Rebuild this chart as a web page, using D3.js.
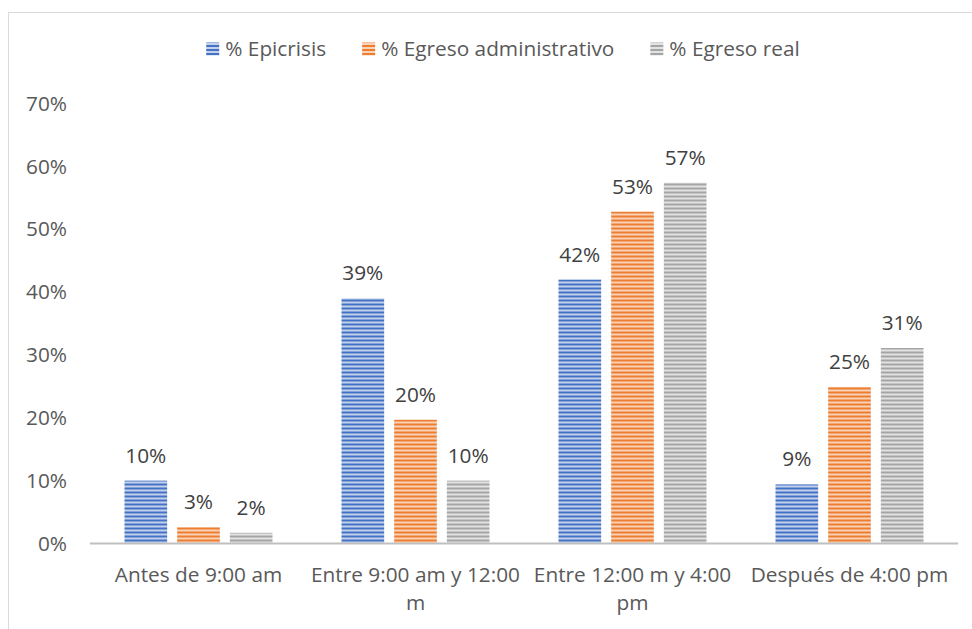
<!DOCTYPE html>
<html>
<head>
<meta charset="utf-8">
<script src="https://cdn.jsdelivr.net/npm/d3@7"></script>
<style>
  html, body { margin: 0; padding: 0; background: #fff; }
  svg { display: block; font-family: "Open Sans", "Noto Sans", sans-serif; }
</style>
</head>
<body>
<svg id="chart" width="972" height="629"></svg>
<script>
// Categories (time of day) and the three series, as shares of discharges
const categories = ["Antes de 9:00 am", "Entre 9:00 am y 12:00 m", "Entre 12:00 m y 4:00 pm", "Después de 4:00 pm"];
const seriesNames = ["% Epicrisis", "% Egreso administrativo", "% Egreso real"];
const epicrisis = [0.10, 0.39, 0.42, 0.094];
const egresoAdministrativo = [0.026, 0.197, 0.528, 0.249];
const egresoReal = [0.017, 0.10, 0.574, 0.311];
const yTicks = [0, 0.1, 0.2, 0.3, 0.4, 0.5, 0.6, 0.7];

const seriesValues = [epicrisis, egresoAdministrativo, egresoReal];
const colors = [
  { dark: "#4472C4", light: "#c3d1ec" },
  { dark: "#ED7D31", light: "#f9d2b8" },
  { dark: "#A5A5A5", light: "#e2e2e2" }
];

const FONT = "'Open Sans', 'Noto Sans', sans-serif";
const FS = "20.8px";

const svg = d3.select("#chart");
const W = 972, H = 629;
const margin = { left: 90, right: 14, top: 103.5, bottom: 85.5 };
const plotW = W - margin.left - margin.right;
const plotH = H - margin.top - margin.bottom;

// Outer frame of the chart area
svg.append("rect")
  .attr("x", 8.5).attr("y", 12.5)
  .attr("width", 1000).attr("height", 700)
  .attr("fill", "#fff").attr("stroke", "#d9d9d9").attr("stroke-width", 1);

// Striped fills
const defs = svg.append("defs");
colors.forEach((c, i) => {
  const p = defs.append("pattern")
    .attr("id", "stripe" + i)
    .attr("patternUnits", "userSpaceOnUse")
    .attr("width", 8).attr("height", 4);
  p.append("rect").attr("width", 8).attr("height", 4).attr("fill", c.light);
  p.append("rect").attr("y", 0).attr("width", 8).attr("height", 2).attr("fill", c.dark);
});

const g = svg.append("g").attr("transform", `translate(${margin.left},${margin.top})`);

const x0 = d3.scaleBand().domain(categories).range([0, plotW]).paddingInner(0.318).paddingOuter(0.159);
const x1 = d3.scaleBand().domain(seriesNames).range([0, x0.bandwidth()]).paddingInner(0.19);
const y = d3.scaleLinear().domain([0, 0.7]).range([plotH, 0]);

// Y axis labels (no axis line, no gridlines)
const yAxis = d3.axisLeft(y).tickValues(yTicks).tickFormat(d3.format(".0%")).tickSize(0).tickPadding(23);
const ya = g.append("g").call(yAxis);
ya.select(".domain").remove();
ya.selectAll("text")
  .attr("fill", "#595959").style("font-size", FS).style("font-family", FONT);

// Bars with value labels
const groups = g.selectAll("g.cat")
  .data(categories)
  .join("g")
  .attr("class", "cat")
  .attr("transform", d => `translate(${x0(d)},0)`);

seriesNames.forEach((s, si) => {
  groups.append("rect")
    .attr("x", x1(s))
    .attr("y", (d, ci) => y(seriesValues[si][ci]))
    .attr("width", x1.bandwidth())
    .attr("height", (d, ci) => y(0) - y(seriesValues[si][ci]))
    .attr("fill", `url(#stripe${si})`);
  groups.append("text")
    .attr("x", x1(s) + x1.bandwidth() / 2)
    .attr("y", (d, ci) => y(seriesValues[si][ci]) - 18)
    .attr("text-anchor", "middle")
    .attr("fill", "#404040")
    .style("font-size", FS).style("font-family", FONT)
    .text((d, ci) => d3.format(".0%")(seriesValues[si][ci]));
});

// X axis baseline and wrapped category labels
const xAxis = d3.axisBottom(x0).tickSize(0).tickPadding(0);
const xa = g.append("g").attr("transform", `translate(0,${plotH})`).call(xAxis);
xa.select(".domain").remove();
xa.append("line")
  .attr("x1", 0).attr("x2", plotW)
  .attr("stroke", "#bfbfbf").attr("stroke-width", 2);

xa.selectAll(".tick text")
  .attr("fill", "#595959")
  .attr("dy", null)
  .style("font-size", FS).style("font-family", FONT)
  .each(function(d) {
    const t = d3.select(this);
    const words = d.split(" ");
    const maxW = x0.step();
    t.text(null);
    let line = [];
    let lineNo = 0;
    let tspan = t.append("tspan").attr("x", 0).attr("y", 38);
    words.forEach(w => {
      line.push(w);
      tspan.text(line.join(" "));
      if (tspan.node().getComputedTextLength() > maxW && line.length > 1) {
        line.pop();
        tspan.text(line.join(" "));
        line = [w];
        lineNo++;
        tspan = t.append("tspan").attr("x", 0).attr("y", 38 + lineNo * 28).text(w);
      }
    });
  });

// Legend, centred above the plot
const legend = svg.append("g").attr("transform", "translate(0,49)");
const items = seriesNames.map((s, i) => {
  const lg = legend.append("g");
  lg.append("rect").attr("x", 0).attr("y", -6.5).attr("width", 13).attr("height", 13)
    .attr("fill", `url(#stripe${i})`);
  const tx = lg.append("text").attr("x", 19).attr("y", 0).attr("dy", "0.35em")
    .attr("fill", "#595959").style("font-size", FS).style("font-family", FONT).text(s);
  return { lg, w: 19 + tx.node().getComputedTextLength() };
});
const gap = 36;
const total = d3.sum(items, d => d.w) + gap * (items.length - 1);
let cx = 503 - total / 2;
items.forEach(it => {
  it.lg.attr("transform", `translate(${cx},0)`);
  cx += it.w + gap;
});
</script>
</body>
</html>
